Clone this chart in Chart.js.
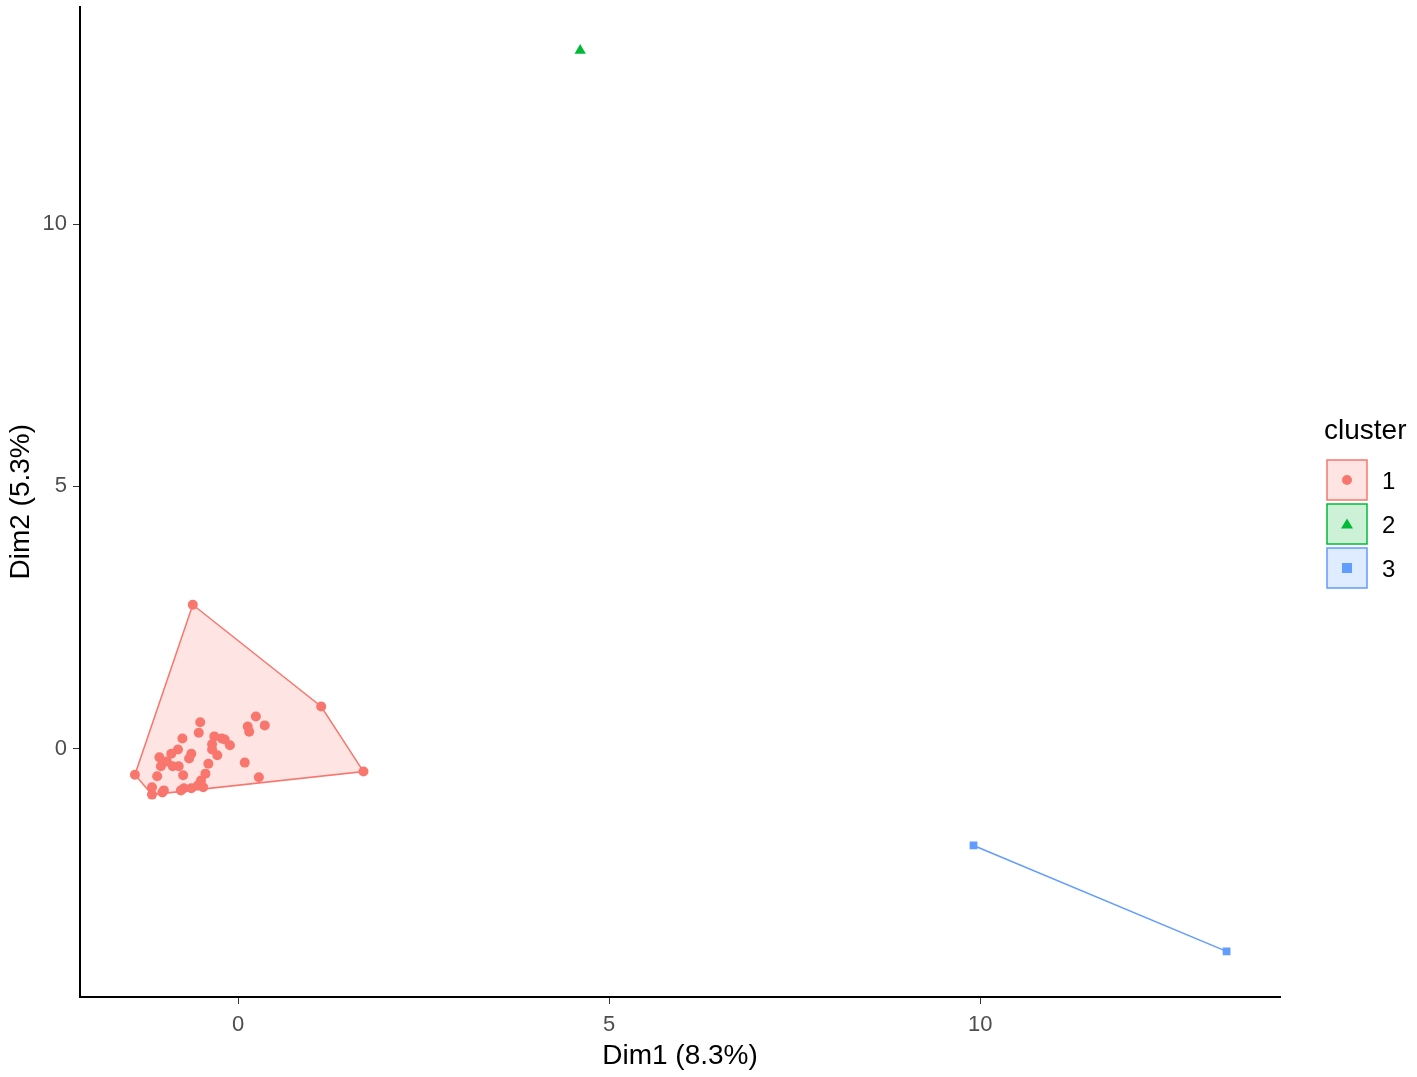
<!DOCTYPE html>
<html>
<head>
<meta charset="utf-8">
<script src="https://cdn.jsdelivr.net/npm/chart.js@4/dist/chart.umd.min.js"></script>
<style>
html, body { margin: 0; padding: 0; background: #fff; }
#wrap { width: 1417px; height: 1077px; }
</style>
</head>
<body>
<div id="wrap"><canvas id="grafica"></canvas></div>
<script>
// cluster 1 (first five points are the hull corners)
const cluster1X = [-0.61, 1.12, 1.69, -1.16, -1.39,
    0.24, 0.36, 0.13, 0.15, -0.51, -0.53, -0.75, -0.32, -0.22, -0.18, -0.11, -0.35, -0.35,
    -0.81, -0.63, -0.90, -1.06, -0.66, -0.28, 0.09, -0.40, -0.96, -0.80, -1.04, -1.09,
    -0.74, -0.44, -0.50, 0.28, -0.54, -0.73, -0.63, -0.47, -1.16, -1.00, -0.77, -0.88, -1.02];
const cluster1Y = [2.74, 0.80, -0.44, -0.88, -0.50,
    0.61, 0.44, 0.42, 0.32, 0.50, 0.30, 0.19, 0.23, 0.19, 0.17, 0.06, 0.08, -0.02,
    -0.02, -0.10, -0.10, -0.17, -0.19, -0.13, -0.27, -0.29, -0.25, -0.34, -0.34, -0.53,
    -0.51, -0.48, -0.61, -0.55, -0.70, -0.76, -0.76, -0.74, -0.74, -0.80, -0.80, -0.34, -0.84];
const hull1 = [0, 1, 2, 3, 4];

const cluster2X = [4.61];
const cluster2Y = [13.31];
const hull2 = [0];

const cluster3X = [9.91, 13.32];
const cluster3Y = [-1.85, -3.87];
const hull3 = [0, 1];

const clusterNames = ['1', '2', '3'];
const colors = ['#F8766D', '#00BA38', '#619CFF'];
const fills = ['rgba(248,118,109,0.2)', 'rgba(0,186,56,0.2)', 'rgba(97,156,255,0.2)'];
const shapes = ['circle', 'triangle', 'rect'];

const xTicks = [0, 5, 10];
const yTicks = [0, 5, 10];

const font = '"Liberation Sans", Arial, sans-serif';

function toPoints(xs, ys) {
    return xs.map((x, i) => ({ x: x, y: ys[i] }));
}

const clusters = [
    { x: cluster1X, y: cluster1Y, hull: hull1 },
    { x: cluster2X, y: cluster2Y, hull: hull2 },
    { x: cluster3X, y: cluster3Y, hull: hull3 }
];

// hull polygons behind the points
const hullPlugin = {
    id: 'hulls',
    beforeDatasetsDraw(chart) {
        const ctx = chart.ctx;
        const sx = chart.scales.x, sy = chart.scales.y;
        clusters.forEach((c, k) => {
            if (c.hull.length < 2) return;
            ctx.save();
            ctx.beginPath();
            c.hull.forEach((idx, j) => {
                const px = sx.getPixelForValue(c.x[idx]);
                const py = sy.getPixelForValue(c.y[idx]);
                if (j === 0) ctx.moveTo(px, py); else ctx.lineTo(px, py);
            });
            ctx.closePath();
            ctx.fillStyle = fills[k];
            ctx.fill();
            ctx.strokeStyle = colors[k];
            ctx.lineWidth = 1.5;
            ctx.stroke();
            ctx.restore();
        });
    }
};

// ggplot style legend on the right
const legendPlugin = {
    id: 'clusterLegend',
    afterDraw(chart) {
        const ctx = chart.ctx;
        ctx.save();
        ctx.fillStyle = '#000';
        ctx.font = '28px ' + font;
        ctx.textBaseline = 'middle';
        ctx.fillText('cluster', 1324, 431);
        clusterNames.forEach((name, k) => {
            const bx = 1327, by = 460 + k * 44, s = 40;
            ctx.fillStyle = fills[k];
            ctx.fillRect(bx, by, s, s);
            ctx.strokeStyle = colors[k];
            ctx.lineWidth = 1.5;
            ctx.strokeRect(bx, by, s, s);
            const cx = bx + s / 2, cy = by + s / 2;
            ctx.fillStyle = colors[k];
            ctx.beginPath();
            if (shapes[k] === 'circle') {
                ctx.arc(cx, cy, 5, 0, Math.PI * 2);
            } else if (shapes[k] === 'triangle') {
                ctx.moveTo(cx, cy - 5.5);
                ctx.lineTo(cx + 6, cy + 4.5);
                ctx.lineTo(cx - 6, cy + 4.5);
                ctx.closePath();
            } else {
                ctx.rect(cx - 5, cy - 5, 10, 10);
            }
            ctx.fill();
            ctx.fillStyle = '#000';
            ctx.font = '24px ' + font;
            ctx.fillText(name, 1382, cy + 2);
        });
        ctx.restore();
    }
};

const graph = document.querySelector('#grafica');

const data = {
    datasets: clusters.map((c, k) => ({
        label: clusterNames[k],
        data: toPoints(c.x, c.y),
        pointStyle: shapes[k],
        pointRadius: k === 0 ? 5 : (k === 1 ? 6.5 : 5.5),
        pointBackgroundColor: colors[k],
        pointBorderColor: colors[k],
        pointBorderWidth: 0,
        showLine: false
    }))
};

const tickFilter = (list) => (scale) => {
    scale.ticks = list.map(v => ({ value: v }));
};

const config = {
    type: 'scatter',
    data: data,
    options: {
        responsive: true,
        maintainAspectRatio: false,
        animation: false,
        layout: { padding: { top: 5, right: 137, left: 0, bottom: 0 } },
        plugins: {
            legend: { display: false },
            tooltip: { enabled: false }
        },
        scales: {
            x: {
                type: 'linear',
                min: -2.13,
                max: 14.04,
                afterBuildTicks: tickFilter(xTicks),
                afterFit: (scale) => { scale.height = 80; scale.paddingLeft = 0; scale.paddingRight = 0; },
                grid: { drawOnChartArea: false, drawTicks: true, tickLength: 7, color: '#333' },
                border: { color: '#000', width: 2 },
                ticks: { color: '#4D4D4D', font: { family: font, size: 22 }, padding: 8 },
                title: { display: true, text: 'Dim1 (8.3%)', color: '#000', font: { family: font, size: 28 }, padding: { top: 0, bottom: 4 } }
            },
            y: {
                type: 'linear',
                min: -4.74,
                max: 14.15,
                afterBuildTicks: tickFilter(yTicks),
                afterFit: (scale) => { scale.width = 80; scale.paddingTop = 0; scale.paddingBottom = 0; },
                grid: { drawOnChartArea: false, drawTicks: true, tickLength: 7, color: '#333' },
                border: { color: '#000', width: 2 },
                ticks: { color: '#4D4D4D', font: { family: font, size: 22 }, padding: 6 },
                title: { display: true, text: 'Dim2 (5.3%)', color: '#000', font: { family: font, size: 28 }, padding: { top: 4, bottom: 0 } }
            }
        }
    },
    plugins: [hullPlugin, legendPlugin]
};

new Chart(graph, config);
</script>
</body>
</html>
